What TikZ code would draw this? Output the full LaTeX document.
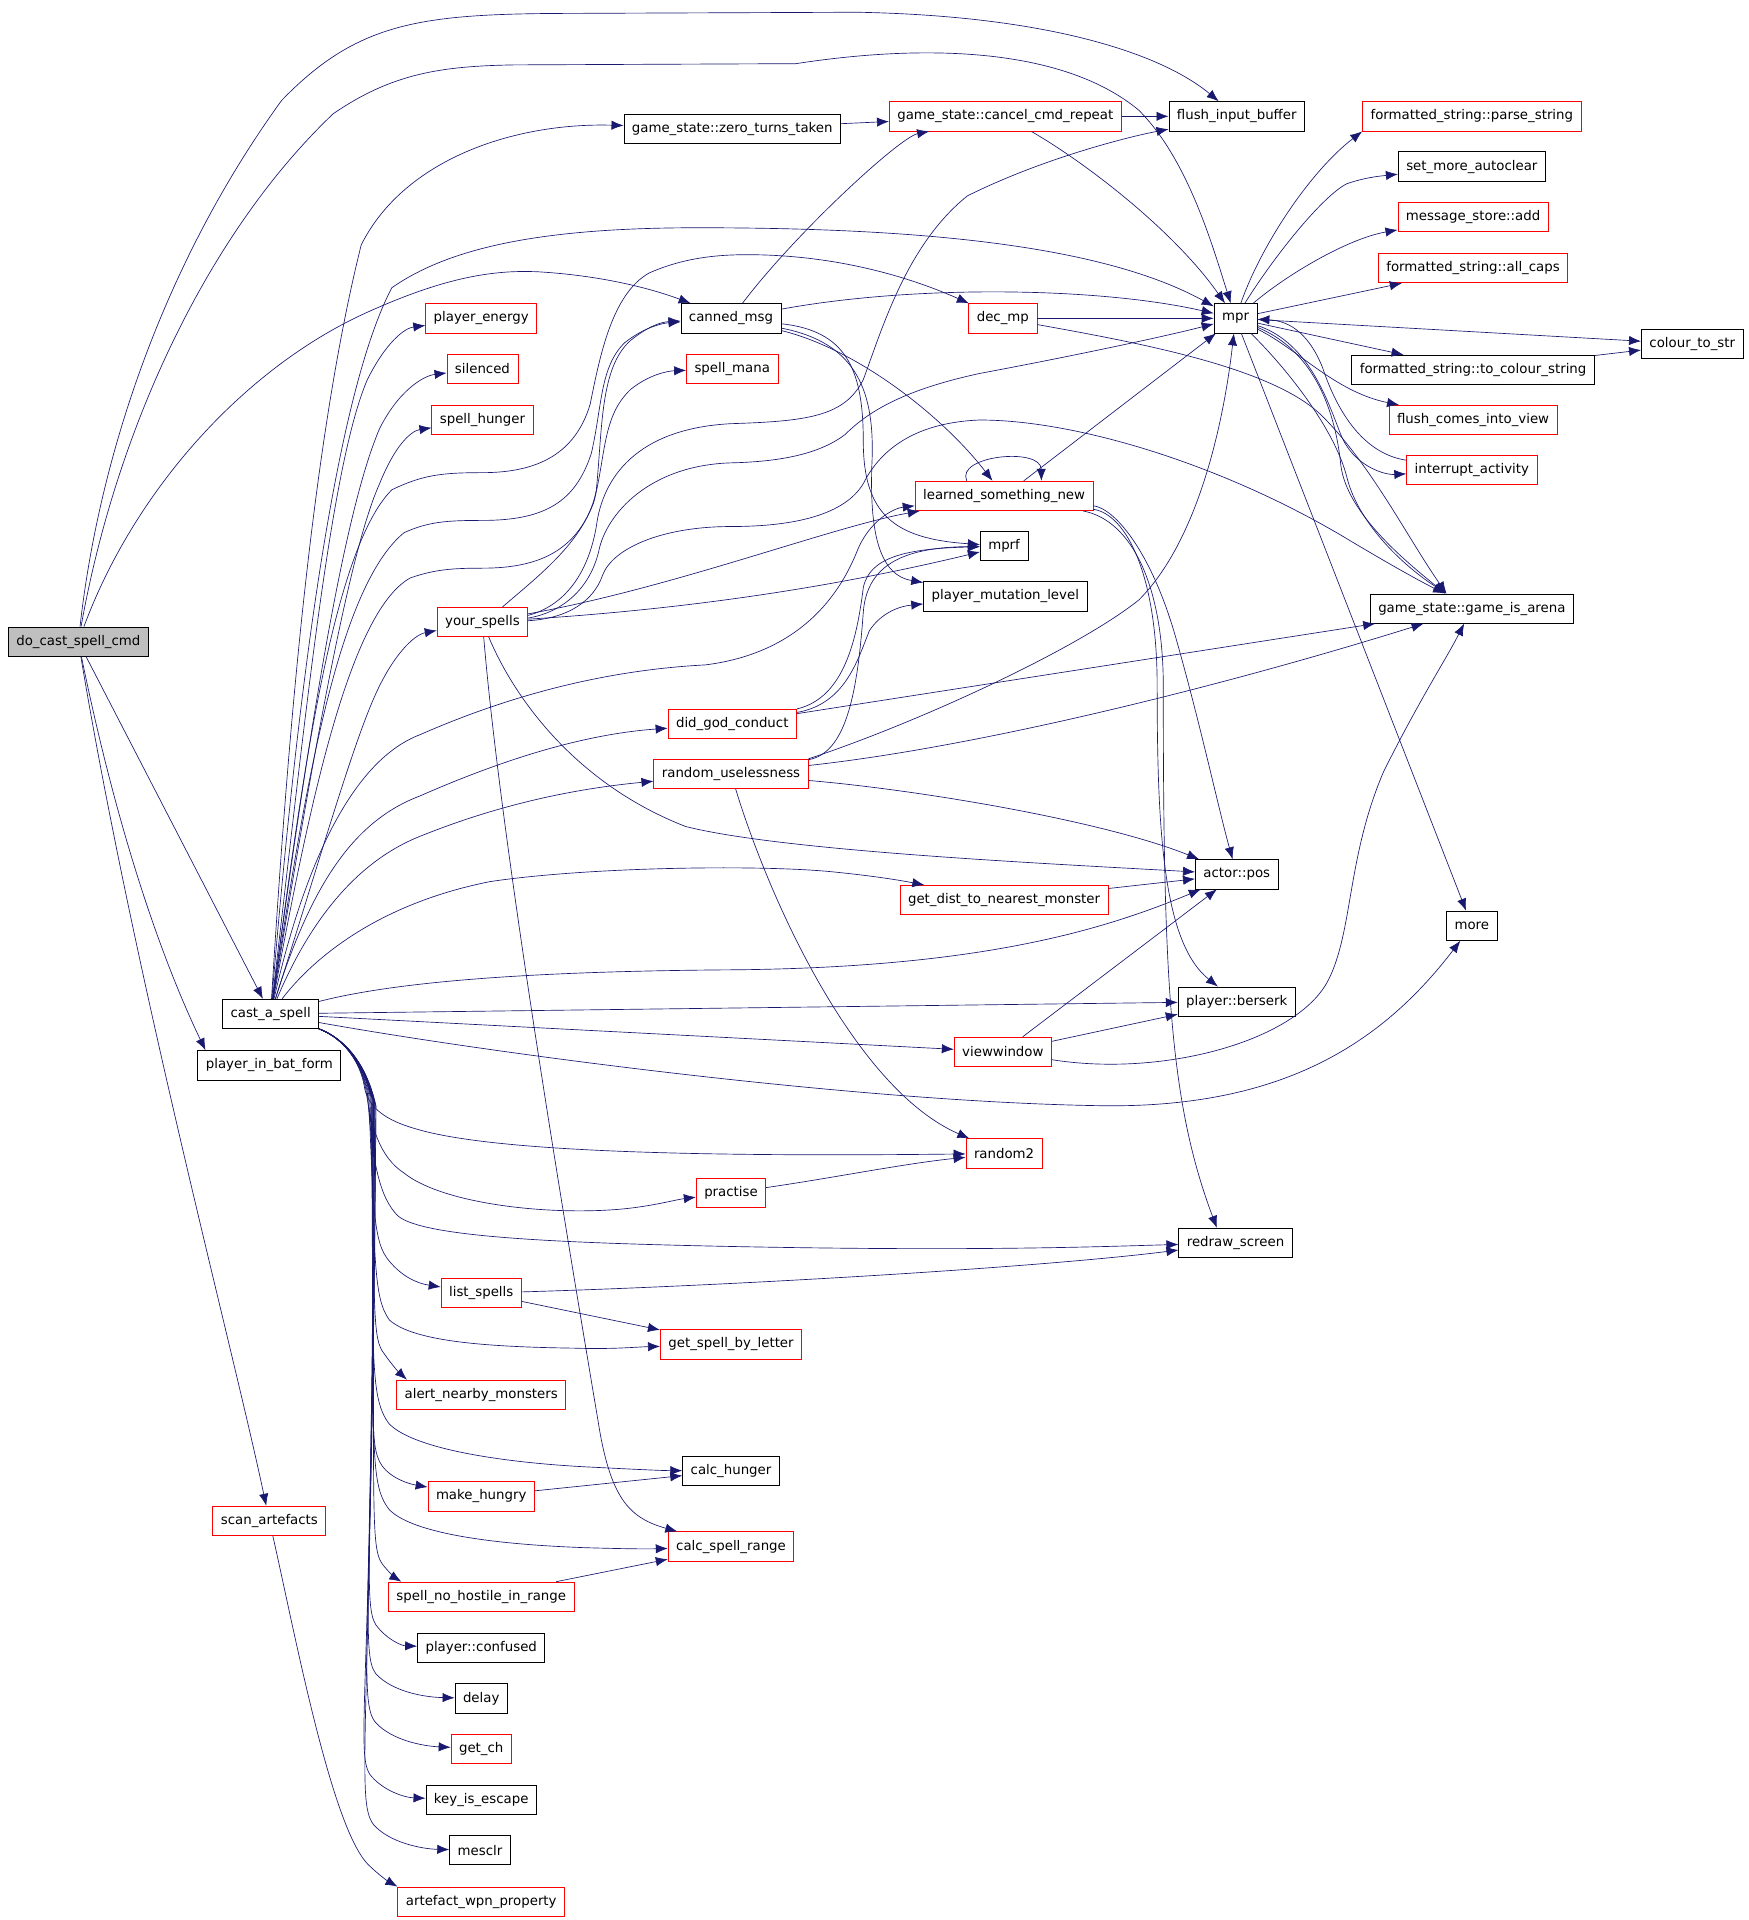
\documentclass[tikz,border=0pt]{standalone}
\usepackage{fontspec}
\setmainfont{DejaVu Sans}
\usepackage{xcolor}
\usetikzlibrary{arrows.meta}
\definecolor{edgeblue}{RGB}{25,25,112}
\definecolor{rootgray}{RGB}{191,191,191}

\begin{document}
\begin{tikzpicture}[x=0.9186pt, y=-0.9186pt,
  fnbox/.style={font=\fontsize{10}{12}\selectfont, draw=black, line width=0.6pt, minimum height=22pt, inner xsep=6pt, inner ysep=0pt},
  fnred/.style={fnbox, draw=red},
  edge/.style={draw=edgeblue, line width=0.5pt, -{Latex[length=9pt,width=7pt]}}]
\useasboundingbox (0,0) rectangle (1428,1568);
%callers
\node[fnbox, fill=rootgray] (docast) at (64,524) {do\_cast\_spell\_cmd};
\node[fnbox] (castspell) at (221,828) {cast\_a\_spell};
\node[fnbox] (batform) at (220,870) {player\_in\_bat\_form};
\node[fnred] (scanart) at (220,1242) {scan\_artefacts};
%third column
\node[fnred] (playerenergy) at (393,260) {player\_energy};
\node[fnred] (silenced) at (394,301) {silenced};
\node[fnred] (spellhunger) at (394,343) {spell\_hunger};
\node[fnred] (yourspells) at (394,508) {your\_spells};
\node[fnred] (listspells) at (393,1056) {list\_spells};
\node[fnred] (alertmon) at (393,1139) {alert\_nearby\_monsters};
\node[fnred] (makehungry) at (393,1222) {make\_hungry};
\node[fnred] (nohostile) at (393,1304) {spell\_no\_hostile\_in\_range};
\node[fnbox] (confused) at (393,1346) {player::confused};
\node[fnbox] (delay) at (393,1387) {delay};
\node[fnred] (getch) at (393,1428) {get\_ch};
\node[fnbox] (keyesc) at (393,1470) {key\_is\_escape};
\node[fnbox] (mesclr) at (392,1511) {mesclr};
\node[fnred] (wpnprop) at (393,1553) {artefact\_wpn\_property};
%fourth column
\node[fnbox] (zeroturns) at (598,105) {game\_state::zero\_turns\_taken};
\node[fnbox] (cannedmsg) at (597,260) {canned\_msg};
\node[fnred] (spellmana) at (598,301) {spell\_mana};
\node[fnred] (godconduct) at (598,591) {did\_god\_conduct};
\node[fnred] (randuseless) at (597,632) {random\_uselessness};
\node[fnred] (practise) at (597,974) {practise};
\node[fnred] (spellletter) at (597,1098) {get\_spell\_by\_letter};
\node[fnbox] (calchunger) at (597,1201) {calc\_hunger};
\node[fnred] (spellrange) at (597,1263) {calc\_spell\_range};
%fifth column
\node[fnred] (cancelrep) at (821,95) {game\_state::cancel\_cmd\_repeat};
\node[fnred] (decmp) at (819,260) {dec\_mp};
\node[fnred] (learned) at (820,405) {learned\_something\_new};
\node[fnbox] (mprf) at (820,446) {mprf};
\node[fnbox] (mutlevel) at (821,487) {player\_mutation\_level};
\node[fnred] (getdist) at (820,735) {get\_dist\_to\_nearest\_monster};
\node[fnred] (viewwindow) at (819,859) {viewwindow};
\node[fnred] (random2) at (820,942) {random2};
%sixth column
\node[fnbox] (flushinput) at (1010,95) {flush\_input\_buffer};
\node[fnbox] (mpr) at (1009,260) {mpr};
\node[fnbox] (actorpos) at (1010,714) {actor::pos};
\node[fnbox] (berserk) at (1010,818) {player::berserk};
\node[fnbox] (redraw) at (1009,1015) {redraw\_screen};
%right columns
\node[fnred] (parsestr) at (1202,95) {formatted\_string::parse\_string};
\node[fnbox] (autoclear) at (1202,136) {set\_more\_autoclear};
\node[fnred] (msgadd) at (1203,177) {message\_store::add};
\node[fnred] (allcaps) at (1203,219) {formatted\_string::all\_caps};
\node[fnbox] (tocolour) at (1203,302) {formatted\_string::to\_colour\_string};
\node[fnred] (flushview) at (1203,343) {flush\_comes\_into\_view};
\node[fnred] (interrupt) at (1202,384) {interrupt\_activity};
\node[fnbox] (gamearena) at (1202,497) {game\_state::game\_is\_arena};
\node[fnbox] (more) at (1202,756) {more};
\node[fnbox] (colourstr) at (1382,281) {colour\_to\_str};
%do_cast_spell_cmd
\draw[edge] (docast) .. controls (80,380) and (130,220) .. (230,82) .. controls (290,20) and (340,12) .. (450,11) -- (700,10) .. controls (860,13) and (950,45) .. (flushinput);
\draw[edge] (docast) .. controls (95,350) and (170,190) .. (272,93) .. controls (320,60) and (360,54) .. (420,53) -- (650,52) .. controls (760,35) and (870,40) .. (930,90) .. controls (970,130) and (990,200) .. (mpr);
\draw[edge] (docast) .. controls (110,400) and (200,300) .. (300,255) .. controls (360,228) and (400,220) .. (440,222) .. controls (490,225) and (530,235) .. (cannedmsg);
\draw[edge] (docast) -- (castspell);
\draw[edge] (docast) .. controls (100,700) and (140,800) .. ([xshift=6pt]batform.north west);
\draw[edge] (docast) .. controls (110,800) and (190,1100) .. (scanart);
%cast_a_spell upwards
\draw[edge] (castspell) .. controls (235,600) and (255,360) .. (295,200) .. controls (330,130) and (420,100) .. (zeroturns);
\draw[edge] (castspell) .. controls (240,600) and (270,330) .. (320,235) .. controls (370,200) and (450,186) .. (570,186) .. controls (750,186) and (900,200) .. (mpr);
\draw[edge] (castspell) .. controls (250,580) and (270,380) .. (300,310) .. controls (315,280) and (330,268) .. (playerenergy);
\draw[edge] (castspell) .. controls (252,600) and (280,420) .. (310,350) .. controls (325,320) and (345,307) .. (silenced);
\draw[edge] (castspell) .. controls (255,620) and (285,450) .. (310,395) .. controls (322,365) and (335,352) .. (spellhunger);
\draw[edge] (castspell) .. controls (262,700) and (290,600) .. (310,560) .. controls (325,530) and (340,518) .. (yourspells);
\draw[edge] (castspell) .. controls (245,650) and (270,450) .. (320,400) .. controls (345,388) and (360,386) .. (394,386) .. controls (440,386) and (470,370) .. (482,330) .. controls (490,290) and (500,240) .. (530,223) .. controls (555,212) and (580,208) .. (610,208) .. controls (680,208) and (740,225) .. (decmp);
\draw[edge] (castspell) .. controls (248,650) and (275,480) .. (330,435) .. controls (350,426) and (365,425) .. (394,425) .. controls (445,425) and (470,410) .. (483,370) .. controls (492,330) and (490,300) .. (510,280) .. controls (525,268) and (540,264) .. (cannedmsg);
\draw[edge] (castspell) .. controls (252,660) and (285,500) .. (335,472) .. controls (355,465) and (370,464) .. (394,464) .. controls (440,464) and (470,450) .. (485,410) .. controls (495,370) and (492,340) .. (515,318) .. controls (530,306) and (545,303) .. (spellmana);
\draw[edge] (castspell) .. controls (250,700) and (290,620) .. (343,600) .. controls (400,575) and (480,548) .. (576,543) .. controls (640,535) and (680,500) .. (700,450) .. controls (710,425) and (730,415) .. (learned);
\draw[edge] (castspell) .. controls (255,720) and (290,670) .. (343,650) .. controls (400,625) and (470,600) .. (godconduct);
\draw[edge] (castspell) .. controls (258,740) and (300,700) .. (343,683) .. controls (400,660) and (460,645) .. (randuseless);
\draw[edge] (castspell) .. controls (250,790) and (300,740) .. (400,720) .. controls (480,708) and (620,706) .. (680,712) .. controls (710,715) and (730,718) .. (getdist);
%cast_a_spell rightwards
\draw[edge] (castspell) .. controls (330,800) and (450,793) .. (600,792) .. controls (800,790) and (900,760) .. (actorpos);
\draw[edge] (castspell) -- (berserk);
\draw[edge] (castspell) -- (viewwindow);
\draw[edge] (castspell) .. controls (400,860) and (700,900) .. (900,903) .. controls (1050,905) and (1130,850) .. (more);
%cast_a_spell downwards
\draw[edge] (castspell.south east) .. controls (276,846) and (294,862) .. (298,890) .. controls (302,905) and (315,915) .. (340,922) .. controls (400,940) and (560,945) .. (random2);
\draw[edge] (castspell.south east) .. controls (276,846) and (294,862) .. (299,891) .. controls (303,920) and (310,945) .. (330,958) .. controls (360,982) and (440,992) .. (500,988) .. controls (530,986) and (550,980) .. (practise);
\draw[edge] (castspell.south east) .. controls (276,846) and (294,862) .. (300,892) .. controls (304,950) and (310,978) .. (325,993) .. controls (345,1010) and (450,1015) .. (600,1018) .. controls (800,1022) and (900,1018) .. (redraw);
\draw[edge] (castspell.south east) .. controls (276,846) and (294,862) .. (301,893) .. controls (305,990) and (305,1015) .. (318,1030) .. controls (328,1042) and (340,1048) .. (listspells);
\draw[edge] (castspell.south east) .. controls (276,846) and (295,862) .. (302,894) .. controls (306,1030) and (305,1060) .. (318,1078) .. controls (338,1096) and (400,1100) .. (470,1101) .. controls (500,1102) and (520,1100) .. (spellletter);
\draw[edge] (castspell.south east) .. controls (276,846) and (295,862) .. (303,895) .. controls (306,1060) and (304,1090) .. (312,1103) .. controls (318,1112) and (325,1120) .. ([xshift=8pt]alertmon.north west);
\draw[edge] (castspell.south east) .. controls (276,846) and (295,862) .. (303,896) .. controls (306,1100) and (300,1140) .. (318,1163) .. controls (340,1185) and (420,1195) .. (480,1198) .. controls (520,1200) and (540,1201) .. (calchunger);
\draw[edge] (castspell.south east) .. controls (276,846) and (296,862) .. (304,897) .. controls (306,1150) and (300,1180) .. (312,1197) .. controls (320,1208) and (335,1212) .. (makehungry);
\draw[edge] (castspell.south east) .. controls (276,846) and (296,862) .. (304,898) .. controls (306,1180) and (300,1210) .. (318,1233) .. controls (340,1255) and (420,1262) .. (480,1264) .. controls (515,1265) and (530,1265) .. (spellrange);
\draw[edge] (castspell.south east) .. controls (276,846) and (296,862) .. (305,899) .. controls (306,1230) and (302,1262) .. (312,1277) .. controls (318,1285) and (325,1290) .. ([xshift=10pt]nohostile.north west);
\draw[edge] (castspell.south east) .. controls (276,846) and (297,862) .. (305,900) .. controls (305,1260) and (296,1310) .. (307,1327) .. controls (316,1339) and (328,1344) .. (confused);
\draw[edge] (castspell.south east) .. controls (276,846) and (297,862) .. (306,901) .. controls (305,1300) and (294,1350) .. (307,1367) .. controls (320,1381) and (345,1386) .. (delay);
\draw[edge] (castspell.south east) .. controls (276,846) and (297,862) .. (306,902) .. controls (304,1340) and (292,1390) .. (307,1407) .. controls (320,1421) and (345,1426) .. (getch);
\draw[edge] (castspell.south east) .. controls (276,846) and (298,862) .. (307,903) .. controls (304,1380) and (290,1430) .. (302,1449) .. controls (312,1462) and (330,1468) .. (keyesc);
\draw[edge] (castspell.south east) .. controls (276,846) and (298,862) .. (307,904) .. controls (303,1420) and (290,1470) .. (305,1490) .. controls (318,1505) and (345,1510) .. (mesclr);
%your_spells
\draw[edge] ([xshift=15pt]yourspells.north) .. controls (440,470) and (480,440) .. (487,400) .. controls (492,350) and (490,300) .. (515,278) .. controls (530,266) and (540,263) .. (cannedmsg);
\draw[edge] ([yshift=5pt]yourspells.east) .. controls (460,495) and (480,470) .. (487,430) .. controls (492,390) and (520,350) .. (597,346) .. controls (660,344) and (690,340) .. (705,310) .. controls (720,270) and (740,200) .. (790,160) .. controls (850,130) and (920,112) .. (flushinput);
\draw[edge] ([yshift=3pt]yourspells.east) .. controls (460,500) and (482,480) .. (489,450) .. controls (495,420) and (530,380) .. (597,378) .. controls (640,377) and (670,370) .. (690,355) .. controls (710,335) and (740,318) .. (800,305) .. controls (880,290) and (950,275) .. (mpr);
\draw[edge] ([yshift=1pt]yourspells.east) .. controls (465,505) and (485,490) .. (492,470) .. controls (500,448) and (540,430) .. (597,430) .. controls (650,430) and (690,420) .. (705,395) .. controls (720,365) and (750,345) .. (800,343) .. controls (880,343) and (1000,380) .. (1100,440) .. controls (1130,458) and (1160,475) .. ([xshift=-20pt]gamearena.north);
\draw[edge] (yourspells) .. controls (550,480) and (680,430) .. (learned);
\draw[edge] (yourspells) .. controls (600,495) and (720,470) .. (mprf);
\draw[edge] (yourspells) .. controls (420,570) and (470,640) .. (560,675) .. controls (640,695) and (850,705) .. (actorpos);
\draw[edge] (yourspells) .. controls (410,700) and (470,1050) .. (490,1170) .. controls (500,1225) and (515,1240) .. (spellrange);
%game state
\draw[edge] (zeroturns) -- (cancelrep);
\draw[edge] (cancelrep) -- (flushinput);
\draw[edge] (cancelrep) .. controls (890,135) and (960,190) .. (mpr);
%canned_msg
\draw[edge] (cannedmsg) .. controls (650,190) and (735,112) .. (cancelrep);
\draw[edge] (cannedmsg) .. controls (750,232) and (900,235) .. (mpr);
\draw[edge] (cannedmsg) .. controls (700,285) and (770,340) .. (learned);
\draw[edge] (cannedmsg) .. controls (690,270) and (705,300) .. (705,360) .. controls (705,420) and (730,440) .. (mprf);
\draw[edge] (cannedmsg) .. controls (700,280) and (715,320) .. (712,380) .. controls (710,440) and (720,470) .. (mutlevel);
%dec_mp
\draw[edge] (decmp) -- (mpr);
\draw[edge] (decmp) .. controls (930,280) and (1040,300) .. (1080,340) .. controls (1120,380) and (1150,440) .. ([xshift=-19pt]gamearena.north);
%learned_something_new
\draw[edge] ([xshift=-28pt]learned.north) .. controls (780,372) and (850,365) .. ([xshift=28pt]learned.north);
\draw[edge] (learned) -- (mpr);
\draw[edge] (learned) .. controls (910,415) and (940,450) .. (960,520) .. controls (980,590) and (995,660) .. (actorpos);
\draw[edge] (learned) .. controls (920,420) and (945,470) .. (945,560) .. controls (945,680) and (950,770) .. (berserk);
\draw[edge] (learned) .. controls (925,425) and (950,480) .. (950,560) .. controls (950,800) and (955,900) .. ([xshift=-14pt]redraw.north);
%did_god_conduct, random_uselessness
\draw[edge] (godconduct) .. controls (690,570) and (700,520) .. (705,480) .. controls (710,455) and (740,448) .. (mprf);
\draw[edge] (godconduct) .. controls (690,575) and (700,540) .. (710,515) .. controls (720,500) and (735,495) .. (mutlevel);
\draw[edge] (godconduct) -- (gamearena);
\draw[edge] (randuseless) .. controls (690,615) and (700,570) .. (705,500) .. controls (708,460) and (740,447) .. (mprf);
\draw[edge] (randuseless.north east) .. controls (750,590) and (880,530) .. (930,490) .. controls (980,440) and (1000,340) .. (mpr);
\draw[edge] (randuseless) .. controls (800,610) and (1000,560) .. (gamearena);
\draw[edge] (randuseless) .. controls (750,645) and (900,670) .. (actorpos);
\draw[edge] (randuseless) .. controls (630,740) and (700,890) .. (random2);
%others
\draw[edge] (getdist) -- (actorpos);
\draw[edge] (viewwindow) -- (actorpos);
\draw[edge] (viewwindow) -- (berserk);
\draw[edge] (viewwindow) .. controls (950,880) and (1060,850) .. (1085,800) .. controls (1105,760) and (1100,700) .. (1130,630) .. controls (1160,570) and (1180,540) .. (gamearena);
\draw[edge] (practise) .. controls (680,962) and (740,950) .. (random2);
\draw[edge] (listspells) .. controls (600,1050) and (850,1035) .. (redraw);
\draw[edge] (listspells) -- (spellletter);
\draw[edge] (makehungry) -- (calchunger);
\draw[edge] (nohostile) -- (spellrange);
\draw[edge] (scanart) .. controls (240,1330) and (270,1490) .. (300,1522) .. controls (310,1532) and (318,1537) .. (wpnprop.north west);
%mpr
\draw[edge] (mpr) .. controls (1030,200) and (1070,140) .. (parsestr.south west);
\draw[edge] (mpr) .. controls (1040,210) and (1080,160) .. (1100,150) .. controls (1115,145) and (1125,144) .. (autoclear);
\draw[edge] (mpr) .. controls (1050,225) and (1100,195) .. (msgadd);
\draw[edge] (mpr) -- (allcaps);
\draw[edge] (mpr) -- (colourstr);
\draw[edge] (mpr) -- (tocolour);
\draw[edge] (tocolour) -- (colourstr);
\draw[edge] (mpr) .. controls (1060,285) and (1090,320) .. (flushview);
\draw[edge] (mpr) .. controls (1070,280) and (1085,330) .. (1095,355) .. controls (1105,380) and (1130,388) .. (interrupt);
\draw[edge] (interrupt) .. controls (1110,370) and (1090,330) .. (1080,300) .. controls (1070,275) and (1055,262) .. (mpr);
\draw[edge] (mpr) .. controls (1070,285) and (1090,330) .. (1095,380) .. controls (1100,420) and (1150,460) .. ([xshift=-20pt]gamearena.north);
\draw[edge] (mpr) .. controls (1050,300) and (1090,350) .. (1100,390) .. controls (1110,430) and (1150,465) .. ([xshift=-19pt]gamearena.north);
\draw[edge] (mpr) -- (more);
\end{tikzpicture}
\end{document}
